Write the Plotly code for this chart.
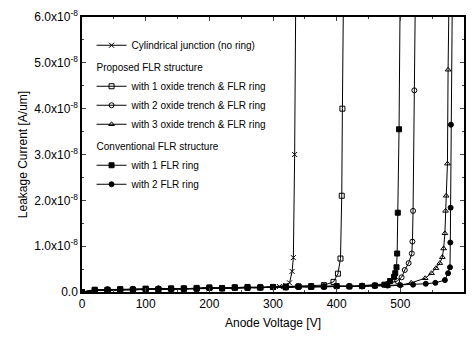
import plotly.graph_objects as go

# Leakage current values in units of 1e-8 A/um
cyl_v = [0, 20, 40, 60, 80, 100, 120, 140, 160, 180, 200, 220, 240, 260, 280, 300, 310, 320, 326, 330, 332, 334, 336]
cyl_i = [0.00, 0.03, 0.04, 0.05, 0.04, 0.06, 0.05, 0.07, 0.06, 0.08, 0.07, 0.09, 0.08, 0.10, 0.09, 0.11, 0.12, 0.14, 0.20, 0.45, 0.75, 3.0, 7.0]

p1_v = [0, 20, 40, 60, 80, 100, 120, 140, 160, 180, 200, 220, 240, 260, 280, 300, 320, 340, 360, 380, 395, 402, 406, 408, 409, 411]
p1_i = [0.00, 0.04, 0.05, 0.06, 0.05, 0.07, 0.06, 0.08, 0.07, 0.09, 0.10, 0.08, 0.10, 0.11, 0.10, 0.11, 0.12, 0.12, 0.13, 0.15, 0.22, 0.40, 0.73, 2.1, 4.0, 7.0]

p2_v = [0, 20, 40, 60, 80, 100, 120, 140, 160, 180, 200, 220, 240, 260, 280, 300, 320, 340, 360, 380, 400, 420, 440, 460, 480, 495, 502, 507, 513, 518, 519, 520, 522, 524]
p2_i = [0.00, 0.03, 0.05, 0.04, 0.06, 0.05, 0.07, 0.06, 0.08, 0.07, 0.09, 0.08, 0.10, 0.09, 0.11, 0.10, 0.11, 0.12, 0.11, 0.12, 0.13, 0.12, 0.14, 0.15, 0.18, 0.24, 0.32, 0.48, 0.63, 0.84, 1.10, 1.77, 4.4, 7.0]

p3_v = [0, 20, 40, 60, 80, 100, 120, 140, 160, 180, 200, 220, 240, 260, 280, 300, 320, 340, 360, 380, 400, 420, 440, 460, 480, 500, 517, 539, 549, 556, 562, 566, 568, 570, 571, 572, 574, 575, 577]
p3_i = [0.00, 0.04, 0.03, 0.05, 0.06, 0.05, 0.07, 0.06, 0.08, 0.07, 0.08, 0.09, 0.08, 0.10, 0.09, 0.11, 0.10, 0.12, 0.11, 0.13, 0.12, 0.13, 0.12, 0.14, 0.13, 0.15, 0.20, 0.30, 0.41, 0.52, 0.63, 0.76, 0.95, 1.28, 1.77, 2.1, 2.8, 4.85, 7.0]

c1_v = [0, 20, 40, 60, 80, 100, 120, 140, 160, 180, 200, 220, 240, 260, 280, 300, 320, 340, 360, 380, 400, 420, 440, 460, 475, 484, 490, 492, 494, 495, 496, 498, 500]
c1_i = [0.00, 0.05, 0.04, 0.06, 0.05, 0.07, 0.06, 0.07, 0.08, 0.07, 0.09, 0.08, 0.10, 0.09, 0.10, 0.11, 0.10, 0.12, 0.11, 0.12, 0.13, 0.12, 0.13, 0.14, 0.16, 0.24, 0.33, 0.41, 0.54, 0.84, 1.73, 3.55, 7.0]

c2_v = [0, 20, 40, 60, 80, 100, 120, 140, 160, 180, 200, 220, 240, 260, 280, 300, 320, 340, 360, 380, 400, 420, 440, 460, 480, 500, 520, 540, 555, 570, 575, 578, 578.5, 579, 579.5, 582]
c2_i = [0.00, 0.04, 0.06, 0.05, 0.07, 0.06, 0.08, 0.07, 0.06, 0.08, 0.09, 0.08, 0.09, 0.10, 0.09, 0.11, 0.10, 0.11, 0.12, 0.11, 0.12, 0.13, 0.12, 0.13, 0.14, 0.15, 0.16, 0.18, 0.20, 0.26, 0.41, 0.54, 1.08, 1.84, 3.65, 7.0]

y_ticks = [0, 1, 2, 3, 4, 5, 6]
y_ticklabels = ["0.0", "1.0x10<sup>-8</sup>", "2.0x10<sup>-8</sup>", "3.0x10<sup>-8</sup>",
                "4.0x10<sup>-8</sup>", "5.0x10<sup>-8</sup>", "6.0x10<sup>-8</sup>"]

series = [
    ("Cylindrical junction (no ring)", cyl_v, cyl_i, "x-thin-open", None, None),
    ("with 1 oxide trench &amp; FLR ring", p1_v, p1_i, "square-open", "prop", "Proposed FLR structure"),
    ("with 2 oxide trench &amp; FLR ring", p2_v, p2_i, "circle-open", "prop", "Proposed FLR structure"),
    ("with 3 oxide trench &amp; FLR ring", p3_v, p3_i, "triangle-up-open", "prop", "Proposed FLR structure"),
    ("with 1 FLR ring", c1_v, c1_i, "square", "conv", "Conventional FLR structure"),
    ("with 2 FLR ring", c2_v, c2_i, "circle", "conv", "Conventional FLR structure"),
]

fig = go.Figure()
for name, xv, yv, sym, grp, gtitle in series:
    kw = {}
    if grp:
        kw["legendgroup"] = grp
        kw["legendgrouptitle"] = dict(text=gtitle, font=dict(size=10, color="black"))
    fig.add_trace(go.Scatter(
        x=xv, y=yv, mode="lines+markers", name=name,
        line=dict(color="black", width=1),
        marker=dict(symbol=sym, size=5, color="black",
                    line=dict(color="black", width=1)),
        **kw))

fig.update_layout(
    width=474, height=337,
    margin=dict(l=82, r=8, t=15, b=45),
    paper_bgcolor="white", plot_bgcolor="white",
    font=dict(family="Liberation Sans, Arial, sans-serif", color="black", size=12),
    showlegend=True,
    legend=dict(x=0.025, y=0.95, xanchor="left", yanchor="top",
                bgcolor="rgba(0,0,0,0)", font=dict(size=10),
                traceorder="grouped", tracegroupgap=3, itemwidth=30),
)
fig.update_xaxes(
    range=[0, 600], tickvals=[0, 100, 200, 300, 400, 500, 600],
    ticks="inside", ticklen=4, showline=True, linecolor="black", linewidth=1.5,
    mirror="ticks", showgrid=False, zeroline=False,
    minor=dict(ticks="inside", ticklen=2, dtick=50, showgrid=False),
    title=dict(text="Anode Voltage [V]", font=dict(size=12), standoff=8),
    tickfont=dict(size=12),
)
fig.update_yaxes(
    range=[0, 6], tickvals=y_ticks, ticktext=y_ticklabels,
    ticks="inside", ticklen=4, showline=True, linecolor="black", linewidth=1.5,
    mirror="ticks", showgrid=False, zeroline=False,
    minor=dict(ticks="inside", ticklen=2, dtick=0.5, showgrid=False),
    title=dict(text="Leakage Current [A/um]", font=dict(size=12), standoff=4),
    tickfont=dict(size=12),
)

fig.write_html("out.html")
